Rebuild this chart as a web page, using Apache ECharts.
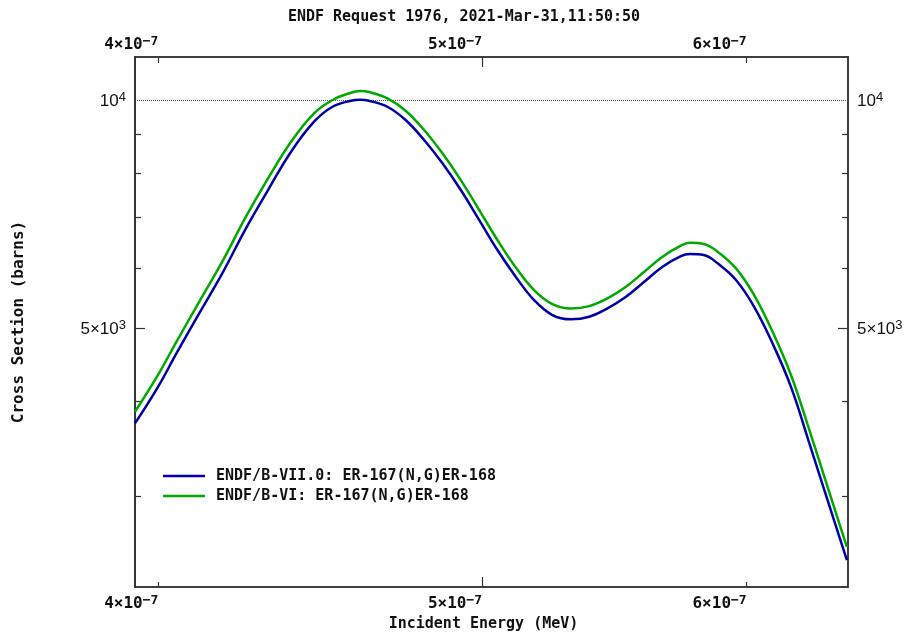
<!DOCTYPE html>
<html>
<head>
<meta charset="utf-8">
<script src="https://cdn.jsdelivr.net/npm/echarts@6/dist/echarts.min.js"></script>
<style>html,body{margin:0;padding:0;background:#fff;}#c{width:909px;height:638px;}</style>
</head>
<body>
<div id="c"></div>
<script>
// Incident energy (MeV)
const ENERGY_MEV = [3.936e-7, 3.999e-7, 4.050e-7, 4.114e-7, 4.180e-7, 4.246e-7, 4.314e-7, 4.383e-7, 4.453e-7, 4.510e-7,
  4.568e-7, 4.596e-7, 4.625e-7, 4.684e-7, 4.743e-7, 4.804e-7, 4.865e-7, 4.927e-7, 4.990e-7, 5.053e-7,
  5.117e-7, 5.182e-7, 5.248e-7, 5.315e-7, 5.383e-7, 5.451e-7, 5.521e-7, 5.591e-7, 5.662e-7, 5.734e-7,
  5.770e-7, 5.825e-7, 5.881e-7, 5.956e-7, 6.031e-7, 6.108e-7, 6.186e-7, 6.265e-7, 6.344e-7, 6.429e-7];
// ENDF/B-VII.0 cross section (barns)
const SIGMA_B7 = [3742, 4182, 4629, 5227, 5904, 6735, 7606, 8545, 9362, 9798,
  9979, 10010, 9979, 9798, 9410, 8855, 8250, 7606, 6943, 6339,
  5844, 5444, 5201, 5134, 5174, 5308, 5499, 5755, 6026, 6224,
  6262, 6243, 6087, 5786, 5334, 4772, 4182, 3522, 2963, 2470];
// ENDF/B-VI cross section (barns)
const SIGMA_B6 = [3877, 4336, 4796, 5416, 6118, 6978, 7880, 8811, 9603, 10000,
  10225, 10277, 10246, 10051, 9681, 9129, 8504, 7840, 7157, 6534,
  6013, 5612, 5378, 5308, 5345, 5471, 5669, 5934, 6211, 6423,
  6478, 6455, 6307, 5995, 5527, 4944, 4336, 3667, 3086, 2572];

const SERIES_NAMES = ['ENDF/B-VII.0: ER-167(N,G)ER-168', 'ENDF/B-VI: ER-167(N,G)ER-168'];
const X_RANGE = [3.936e-7, 6.434e-7];
const Y_RANGE = [2276, 11397];
const X_LABELS = [4e-7, 5e-7, 6e-7];
const X_TICKS_LONG = [5e-7];
const X_TICKS_SHORT = [4e-7, 6e-7];
const Y_LABELS = [5e3, 1e4];
const Y_TICKS_LONG = [5e3];
const Y_TICKS_SHORT = [3e3, 4e3, 6e3, 7e3, 8e3, 9e3];
const Y_GRID = [1e4];

const lg = v => Math.log10(v);
function fmt(v) {
  const exp = Math.floor(v + 1e-9);
  const m = Math.round(Math.pow(10, v - exp));
  const sup = String(exp).replace('-', '\u2212');
  return '{b|' + (m === 1 ? '' : m + '\u00D7') + '10}{s|' + sup + '}';
}

const AX = '#333';
const monoBold = {fontFamily: 'DejaVu Sans Mono', fontWeight: 'bold', fontSize: 15, color: '#111'};
const xRich = {
  b: {fontFamily: 'DejaVu Sans Mono', fontWeight: 'bold', fontSize: 16, color: '#111', lineHeight: 18, verticalAlign: 'bottom'},
  s: {fontFamily: 'DejaVu Sans Mono', fontWeight: 'bold', fontSize: 13, color: '#111', lineHeight: 13, verticalAlign: 'top'}
};
const yRich = {
  b: {fontFamily: 'Liberation Sans', fontSize: 17, color: '#111', lineHeight: 19, verticalAlign: 'bottom'},
  s: {fontFamily: 'Liberation Sans', fontSize: 13, color: '#111', lineHeight: 13, verticalAlign: 'top'}
};

function xAxisDef(pos, labels, ticks, len) {
  return {
    type: 'value', position: pos, min: lg(X_RANGE[0]), max: lg(X_RANGE[1]),
    axisLine: {show: true, lineStyle: {color: AX, width: 1.5}},
    axisTick: {show: true, inside: true, length: len, customValues: ticks.map(lg), lineStyle: {color: AX, width: 1.2}},
    axisLabel: labels ? {show: true, customValues: labels.map(lg), formatter: fmt, align: 'right', margin: pos === 'bottom' ? 7 : 4,
      rich: xRich} : {show: false},
    splitLine: {show: false}
  };
}
function yAxisDef(pos, labels, ticks, len, grid, showTick) {
  return {
    type: 'value', position: pos, min: lg(Y_RANGE[0]), max: lg(Y_RANGE[1]),
    axisLine: {show: true, lineStyle: {color: AX, width: 1.5}},
    axisTick: {show: showTick !== false, inside: true, length: len, customValues: ticks.map(lg), lineStyle: {color: AX, width: 1.2}},
    axisLabel: labels ? {show: true, customValues: labels.map(lg), formatter: fmt, margin: 9, rich: yRich} : {show: false},
    splitLine: grid ? {show: true, lineStyle: {color: '#555', width: 1, type: [1, 1]}} : {show: false}
  };
}

const xAxes = [
  Object.assign(xAxisDef('bottom', X_LABELS, X_TICKS_LONG, 10), {
    name: 'Incident Energy (MeV)', nameLocation: 'middle', nameGap: 27,
    nameTextStyle: Object.assign({}, monoBold, {padding: [0, 16, 0, 0]})
  }),
  xAxisDef('bottom', null, X_TICKS_SHORT, 5),
  xAxisDef('top', X_LABELS, X_TICKS_LONG, 10),
  xAxisDef('top', null, X_TICKS_SHORT, 6)
];
const yAxes = [
  Object.assign(yAxisDef('left', Y_LABELS, Y_TICKS_LONG, 10), {
    name: 'Cross Section (barns)', nameLocation: 'middle', nameGap: 108, nameRotate: 90,
    nameTextStyle: Object.assign({}, monoBold, {fontSize: 16})
  }),
  yAxisDef('left', null, Y_TICKS_SHORT, 6),
  yAxisDef('right', Y_LABELS, Y_TICKS_LONG, 10),
  yAxisDef('right', null, Y_TICKS_SHORT, 6),
  yAxisDef('left', null, Y_GRID, 0, true, false)
];

const COLORS = ['#0000a8', '#00a800'];
const chart = echarts.init(document.getElementById('c'), null, {renderer: 'canvas'});
chart.setOption({
  backgroundColor: '#fff',
  animation: false,
  title: {
    text: 'ENDF Request 1976, 2021-Mar-31,11:50:50',
    left: 459, top: 5, textAlign: 'center',
    textStyle: {fontFamily: 'DejaVu Sans Mono', fontWeight: 'bold', fontSize: 15, color: '#111'}
  },
  grid: {left: 135, right: 61, top: 57, bottom: 51, containLabel: false, outerBoundsMode: 'none'},
  legend: {
    orient: 'vertical', left: 163, top: 466, padding: 0, itemGap: 0,
    itemWidth: 42, itemHeight: 2.5, icon: 'rect',
    data: SERIES_NAMES,
    textStyle: Object.assign({}, monoBold, {padding: [0, 0, 0, 6], lineHeight: 20})
  },
  xAxis: xAxes,
  yAxis: yAxes,
  series: [SIGMA_B7, SIGMA_B6].map((s, k) => ({
    name: SERIES_NAMES[k], type: 'line', xAxisIndex: 0, yAxisIndex: 0,
    showSymbol: false, symbol: 'none', smooth: 0.4,
    lineStyle: {color: COLORS[k], width: 2.5}, itemStyle: {color: COLORS[k]},
    data: ENERGY_MEV.map((e, i) => [lg(e), lg(s[i])])
  }))
});
</script>
</body>
</html>
